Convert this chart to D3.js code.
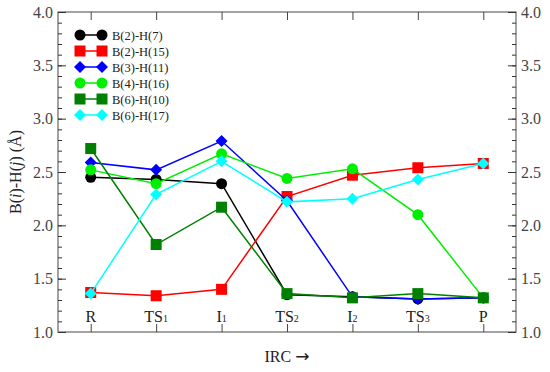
<!DOCTYPE html>
<html>
<head>
<meta charset="utf-8">
<script src="https://cdn.jsdelivr.net/npm/d3@7"></script>
<style>
  body { margin: 0; background: #fff; }
  text { font-family: "Liberation Serif", "DejaVu Serif", serif; fill: #333; }
</style>
</head>
<body>
<svg id="chart" width="550" height="372"></svg>
<script>
var categories = ["R", "TS1", "I1", "TS2", "I2", "TS3", "P"];
var seriesNames = ["B(2)-H(7)", "B(2)-H(15)", "B(3)-H(11)", "B(4)-H(16)", "B(6)-H(10)", "B(6)-H(17)"];
var b2h7  = [2.45, 2.43, 2.39, 1.35, 1.33, 1.31, 1.32];
var b2h15 = [1.37, 1.34, 1.40, 2.27, 2.47, 2.54, 2.58];
var b3h11 = [2.59, 2.52, 2.79, 2.23, 1.33, 1.31, 1.32];
var b4h16 = [2.52, 2.39, 2.67, 2.44, 2.53, 2.10, 1.32];
var b6h10 = [2.72, 1.82, 2.17, 1.36, 1.32, 1.36, 1.32];
var b6h17 = [1.36, 2.29, 2.60, 2.22, 2.25, 2.43, 2.58];
var yTicks = [1.0, 1.5, 2.0, 2.5, 3.0, 3.5, 4.0];

var series = [
  {name: seriesNames[0], values: b2h7,  color: "#000000", shape: "circle"},
  {name: seriesNames[1], values: b2h15, color: "#ff0000", shape: "square"},
  {name: seriesNames[2], values: b3h11, color: "#0000ff", shape: "diamond"},
  {name: seriesNames[3], values: b4h16, color: "#00ee00", shape: "circle"},
  {name: seriesNames[4], values: b6h10, color: "#008000", shape: "square"},
  {name: seriesNames[5], values: b6h17, color: "#00ffff", shape: "diamond"}
];

var svg = d3.select("#chart"),
    margin = {top: 12, right: 34, bottom: 40, left: 58},
    width = +svg.attr("width") - margin.left - margin.right,
    height = +svg.attr("height") - margin.top - margin.bottom;

var x = d3.scalePoint().domain(categories).range([0, width]).padding(0.5),
    y = d3.scaleLinear().domain([1, 4]).range([height, 0]);

var g = svg.append("g")
    .attr("transform", "translate(" + margin.left + "," + margin.top + ")");

var minor = d3.range(10, 41).map(function(d) { return d / 10; });

// frame
g.append("rect")
    .attr("width", width).attr("height", height)
    .attr("fill", "none").attr("stroke", "#666").attr("stroke-width", 1.2);

function yAxis(axisFn, xpos) {
  var a = g.append("g").attr("transform", "translate(" + xpos + ",0)");
  a.call(axisFn(y).tickValues(minor).tickSize(-4).tickFormat(""));
  a.select(".domain").remove();
  var b = g.append("g").attr("transform", "translate(" + xpos + ",0)");
  b.call(axisFn(y).tickValues(yTicks).tickSize(-8).tickPadding(5).tickFormat(d3.format(".1f")));
  b.select(".domain").remove();
  b.selectAll("text").style("font-size", "16px").style("fill", "#444");
  g.selectAll(".tick line").attr("stroke", "#333");
}
yAxis(d3.axisLeft, 0);
yAxis(d3.axisRight, width);

// category ticks top and bottom
g.append("g")
    .attr("transform", "translate(0," + height + ")")
    .call(d3.axisBottom(x).tickSize(-8).tickFormat(""))
    .call(function(s) { s.select(".domain").remove(); s.selectAll("line").attr("stroke", "#444"); });
g.append("g")
    .call(d3.axisTop(x).tickSize(-8).tickFormat(""))
    .call(function(s) { s.select(".domain").remove(); s.selectAll("line").attr("stroke", "#444"); });

// category labels inside plot with subscripts
categories.forEach(function(c) {
  var t = g.append("text")
      .attr("x", x(c))
      .attr("y", height - 10)
      .attr("text-anchor", "middle")
      .style("font-size", "16px")
      .style("fill", "#222");
  var m = c.match(/^([A-Z]+)(\d?)$/);
  t.append("tspan").text(m[1]);
  if (m[2]) t.append("tspan").attr("font-size", "10px").text(m[2]);
});

var line = d3.line()
    .x(function(d, i) { return x(categories[i]); })
    .y(function(d) { return y(d); });

function marker(sel, shape, color) {
  if (shape === "circle") {
    sel.append("circle").attr("r", 5.5).attr("fill", color);
  } else if (shape === "square") {
    sel.append("rect").attr("x", -5.5).attr("y", -5.5).attr("width", 11).attr("height", 11).attr("fill", color);
  } else {
    sel.append("path").attr("d", "M0,-6L6,0L0,6L-6,0Z").attr("fill", color);
  }
}

series.forEach(function(s) {
  g.append("path")
      .datum(s.values)
      .attr("fill", "none")
      .attr("stroke", s.color)
      .attr("stroke-width", 1.5)
      .attr("d", line);
  g.selectAll(null)
    .data(s.values)
    .enter().append("g")
      .attr("transform", function(d, i) { return "translate(" + x(categories[i]) + "," + y(d) + ")"; })
      .each(function() { marker(d3.select(this), s.shape, s.color); });
});

// legend
var lg = g.append("g").attr("transform", "translate(22,23)");
series.forEach(function(s, i) {
  var row = lg.append("g").attr("transform", "translate(0," + (i * 16) + ")");
  row.append("line").attr("x1", 0).attr("x2", 22).attr("stroke", s.color).attr("stroke-width", 1.5);
  marker(row.append("g"), s.shape, s.color);
  marker(row.append("g").attr("transform", "translate(22,0)"), s.shape, s.color);
  row.append("text").attr("x", 32).attr("y", 4.5).style("font-size", "12.5px").style("fill", "#222").text(s.name);
});

// axis titles
var xl = svg.append("text")
    .attr("x", margin.left + width / 2)
    .attr("y", 362)
    .attr("text-anchor", "middle")
    .style("font-size", "16px")
    .style("fill", "#222");
xl.append("tspan").text("IRC ");
xl.append("tspan").style("font-family", "DejaVu Sans").style("font-size", "17px").text("\u2192");

var yl = svg.append("text")
    .attr("transform", "translate(21," + (margin.top + height / 2) + ") rotate(-90)")
    .attr("text-anchor", "middle")
    .style("font-size", "16px")
    .style("fill", "#222");
yl.append("tspan").text("B(");
yl.append("tspan").style("font-style", "italic").text("i");
yl.append("tspan").text(")-H(");
yl.append("tspan").style("font-style", "italic").text("j");
yl.append("tspan").text(") (\u00c5)");
</script>
</body>
</html>
